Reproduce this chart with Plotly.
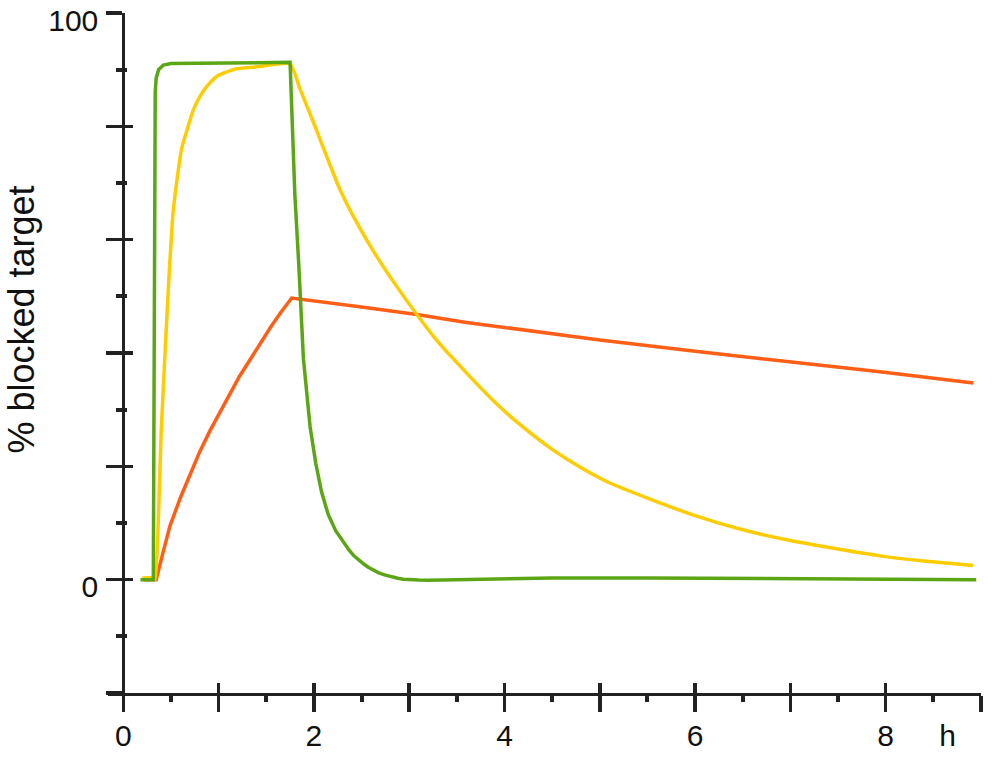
import plotly.graph_objects as go

# ---- data ----
green_t = [0.18, 0.315, 0.335, 0.345, 0.37, 0.42, 0.50, 0.70, 1.00, 1.40, 1.75,
           1.78, 1.80, 1.84, 1.89, 1.96, 2.02, 2.08, 2.15, 2.23, 2.31, 2.37, 2.42,
           2.47, 2.52, 2.57, 2.62, 2.68, 2.75, 2.82, 2.88, 2.94, 3.00, 3.10, 3.20,
           3.40, 3.60, 4.00, 4.50, 5.50, 6.50, 7.50, 8.50, 8.95]
green_v = [0, 0, 86, 88.5, 90, 90.8, 91.1, 91.1, 91.1, 91.2, 91.3,
           79, 68, 56, 39, 27, 20.5, 15.5, 11.5, 8.6, 6.5, 5.2, 4.2,
           3.4, 2.8, 2.2, 1.7, 1.2, 0.8, 0.45, 0.25, 0.08, 0.0, -0.08, -0.1,
           -0.05, 0.1, 0.2, 0.3, 0.3, 0.2, 0.15, 0.1, 0.0]

yellow_t = [0.20, 0.315, 0.333, 0.40, 0.47, 0.525, 0.61, 0.68, 0.735, 0.805, 0.875,
            0.98, 1.17, 1.40, 1.75, 1.85, 2.00, 2.15, 2.27, 2.45, 2.66, 2.85, 3.08,
            3.30, 3.60, 3.90, 4.16, 4.50, 4.80, 5.10, 5.50, 6.00, 6.50, 7.00, 7.50,
            7.94, 8.40, 8.92]
yellow_v = [0.3, 0.3, 0, 27, 50.6, 65.3, 75.9, 80, 82.9, 85.3, 87,
            88.8, 90.1, 90.5, 91.0, 86.8, 80.5, 74, 69, 63, 57, 52.2, 46.8,
            42, 36.5, 31.3, 27.4, 23, 19.8, 17.1, 14.4, 11.3, 8.8, 6.9, 5.4,
            4.2, 3.3, 2.5]

orange_t = [0.21, 0.345, 0.42, 0.49, 0.60, 0.70, 0.80, 0.91, 1.02, 1.12, 1.22,
            1.33, 1.44, 1.54, 1.65, 1.767, 2.50, 3.08, 3.60, 4.16, 5.00, 6.00,
            7.00, 7.94, 8.92]
orange_v = [0, 0, 5, 9.5, 14.5, 18.5, 22.5, 26.3, 29.8, 32.9, 35.9,
            38.8, 41.8, 44.4, 47.1, 49.7, 48.1, 46.8, 45.4, 44.1, 42.3, 40.3,
            38.5, 36.7, 34.7]

x_label_pos = [0, 2, 4, 6, 8, 8.65]
x_labels = ["0", "2", "4", "6", "8", "h"]
y_label_pos = [0, 100]
y_labels = ["0", "100"]
y_title = "% blocked target"

GREEN = "#5ba614"
YELLOW = "#ffcc00"
ORANGE = "#ff5e17"
AX = "#222222"
FONT = "Liberation Sans, Arial, sans-serif"

X0, X1 = -0.1605, 9.0
Y0, Y1 = -20, 100
PY = (0 - X0) / (X1 - X0)

fig = go.Figure()
for t, v, c, shape in [(orange_t, orange_v, ORANGE, "linear"),
                       (yellow_t, yellow_v, YELLOW, "spline"),
                       (green_t, green_v, GREEN, "linear")]:
    fig.add_trace(go.Scatter(x=t, y=v, mode="lines",
                             line=dict(color=c, width=3.5, shape=shape, smoothing=0.5),
                             showlegend=False, hoverinfo="skip"))

# invisible helper traces so that the overlaid axes (crossing ticks, labels) are drawn
for xa, ya in [("x2", "y"), ("x3", "y"), ("x", "y2"), ("x", "y3")]:
    fig.add_trace(go.Scatter(x=[1], y=[50], xaxis=xa, yaxis=ya, mode="markers",
                             marker=dict(opacity=0), showlegend=False, hoverinfo="skip"))

common_x = dict(range=[X0, X1], showgrid=False, zeroline=False, fixedrange=True,
                automargin=False)
common_y = dict(range=[Y0, Y1], showgrid=False, zeroline=False, fixedrange=True,
                automargin=False, anchor="free", position=PY)

fig.update_layout(
    width=1000, height=772,
    margin=dict(l=108, r=19, t=13, b=79),
    paper_bgcolor="white", plot_bgcolor="white",
    font=dict(family=FONT, color="#111111"),
    hovermode=False,
    xaxis=dict(**common_x, anchor="y", showline=True, linecolor=AX, linewidth=3,
               ticks="outside", ticklen=16, tickwidth=3.5, tickcolor=AX,
               tickmode="linear", tick0=0, dtick=1, showticklabels=False,
               minor=dict(ticks="outside", ticklen=6, tickwidth=4, tickcolor=AX,
                          tick0=0, dtick=0.5, showgrid=False)),
    xaxis2=dict(**common_x, overlaying="x", anchor="y", side="bottom", showline=False,
                ticks="inside", ticklen=10, tickwidth=3.5, tickcolor=AX,
                tickmode="linear", tick0=0, dtick=1, showticklabels=False),
    xaxis3=dict(**common_x, overlaying="x", anchor="y", side="bottom", showline=False,
                ticks="", tickmode="array", tickvals=x_label_pos, ticktext=x_labels,
                tickfont=dict(size=30, family=FONT, color="#111111"),
                ticklabelstandoff=22),
    yaxis=dict(**common_y, showline=True, linecolor=AX, linewidth=3,
               ticks="outside", ticklen=16, tickwidth=3.5, tickcolor=AX,
               tickmode="linear", tick0=0, dtick=20, showticklabels=False,
               minor=dict(ticks="outside", ticklen=6, tickwidth=4, tickcolor=AX,
                          tick0=0, dtick=10, showgrid=False)),
    yaxis2=dict(**common_y, overlaying="y", showline=False,
                ticks="inside", ticklen=9, tickwidth=3.5, tickcolor=AX,
                tickmode="linear", tick0=0, dtick=20, showticklabels=False,
                minor=dict(ticks="inside", ticklen=3, tickwidth=4, tickcolor=AX,
                           tick0=0, dtick=10, showgrid=False)),
    yaxis3=dict(**common_y, overlaying="y", showline=False, ticks="",
                tickmode="array", tickvals=y_label_pos, ticktext=y_labels,
                tickfont=dict(size=30, family=FONT, color="#111111"),
                ticklabelstandoff=25, ticklabelshift=7, ticklabeloverflow="allow"),
    annotations=[dict(text=y_title, textangle=-90, xref="paper", yref="y",
                      x=(22 - 108) / 873, y=45.9, xanchor="center", yanchor="middle",
                      showarrow=False, font=dict(size=36, family=FONT, color="#111111"))],
)

# remove the browser's default 8px body margin so the figure sits at the page corner
fig.write_html("out.html",
               config={"displayModeBar": False, "staticPlot": True},
               post_script="document.body.style.margin='0';document.body.style.padding='0';")
